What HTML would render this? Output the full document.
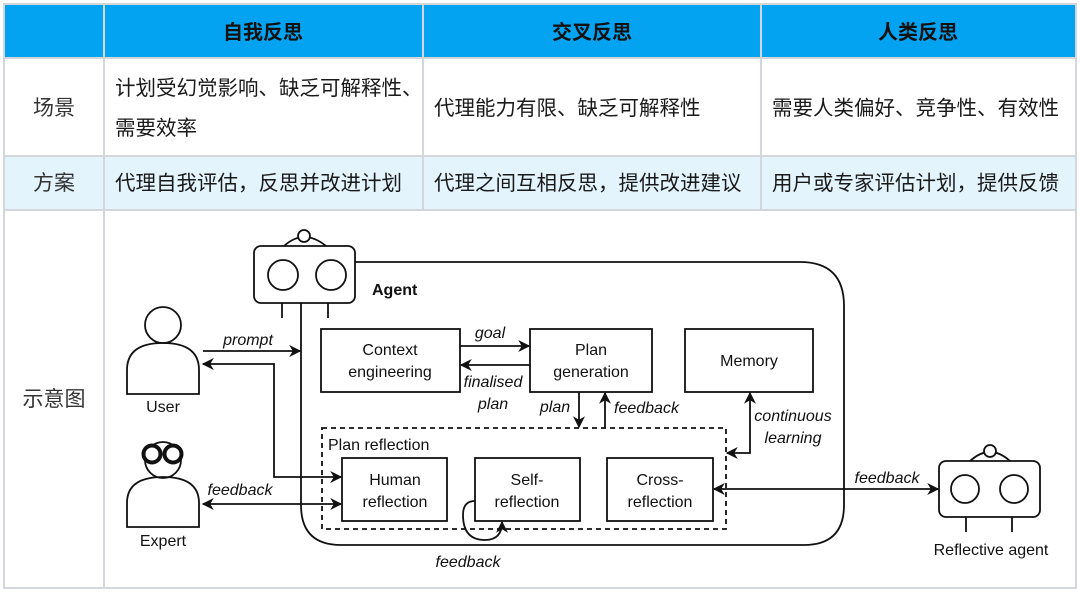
<!DOCTYPE html>
<html><head><meta charset="utf-8"><style>
body{margin:0;background:#fff;}
svg{display:block;}
.cj{font-family:"Liberation Sans","Noto Sans CJK SC",sans-serif;}
.t{font-family:"Liberation Sans",sans-serif;font-size:16px;fill:#111;}
.i{font-style:italic;}
</style></head><body>
<svg width="1080" height="595" viewBox="0 0 1080 595" xmlns="http://www.w3.org/2000/svg">
<defs>
<marker id="a" viewBox="0 0 10 10" refX="9" refY="5" markerWidth="12" markerHeight="12" orient="auto-start-reverse" markerUnits="userSpaceOnUse"><path d="M0,0 L10,5 L0,10 L3,5 z" fill="#111"/></marker>
</defs>
<rect x="4" y="4" width="1072" height="54" fill="#03a3f1"/>
<rect x="4" y="156" width="1072" height="54" fill="#e3f4fd"/>
<g stroke="#d3d6da" stroke-width="2" fill="none">
<rect x="4" y="4" width="1072" height="584"/>
<line x1="104" y1="4" x2="104" y2="588"/>
<line x1="423" y1="4" x2="423" y2="210"/>
<line x1="761" y1="4" x2="761" y2="210"/>
<line x1="4" y1="58" x2="1076" y2="58"/>
<line x1="4" y1="156" x2="1076" y2="156"/>
<line x1="4" y1="210" x2="1076" y2="210"/>
</g>
<g class="cj" font-size="20.5" fill="#1a1a1a">
<text x="263" y="39" text-anchor="middle" font-weight="bold" font-size="20" fill="#111">自我反思</text>
<text x="592" y="39" text-anchor="middle" font-weight="bold" font-size="20" fill="#111">交叉反思</text>
<text x="918" y="39" text-anchor="middle" font-weight="bold" font-size="20" fill="#111">人类反思</text>
<text x="54" y="115" text-anchor="middle" font-size="21" fill="#333">场景</text>
<text x="54" y="190" text-anchor="middle" font-size="21" fill="#333">方案</text>
<text x="54" y="406" text-anchor="middle" font-size="21" fill="#333">示意图</text>
<text x="115" y="95">计划受幻觉影响、缺乏可解释性、</text>
<text x="115" y="135">需要效率</text>
<text x="434" y="115">代理能力有限、缺乏可解释性</text>
<text x="772" y="115">需要人类偏好、竞争性、有效性</text>
<text x="115" y="190">代理自我评估，反思并改进计划</text>
<text x="434" y="190">代理之间互相反思，提供改进建议</text>
<text x="772" y="190">用户或专家评估计划，提供反馈</text>
</g>
<g stroke="#111" stroke-width="1.8" fill="none">
<path d="M355,262 H800 Q844,262 844,306 V505 Q844,545 804,545 H341 Q301,545 301,505 V303"/>
<path d="M284,246 Q304,228 326,246"/>
<circle cx="304" cy="236" r="6" fill="#fff"/>
<rect x="254" y="246" width="101" height="57" rx="7" fill="#fff"/>
<circle cx="283" cy="275" r="15"/><circle cx="331" cy="275" r="15"/>
<line x1="282" y1="303" x2="282" y2="318"/><line x1="328" y1="303" x2="328" y2="318"/>
<circle cx="163" cy="325" r="18"/>
<path d="M127,394 V370 Q127,343 163,343 Q199,343 199,370 V394 Z"/>
<circle cx="163" cy="460" r="18"/>
<path d="M127,527 V503 Q127,477 163,477 Q199,477 199,503 V527 Z"/>
<circle cx="152" cy="454" r="8.5" stroke-width="4" fill="#fff"/><circle cx="173" cy="454" r="8.5" stroke-width="4" fill="#fff"/>
<rect x="321" y="329" width="139" height="63"/>
<rect x="530" y="329" width="122" height="63"/>
<rect x="685" y="329" width="128" height="63"/>
<rect x="322" y="428" width="404" height="101" stroke-dasharray="5,4"/>
<rect x="342" y="458" width="105" height="63"/>
<rect x="475" y="458" width="105" height="63"/>
<rect x="607" y="458" width="106" height="63"/>
<path d="M970,461 Q990,443 1010,461"/>
<circle cx="990" cy="451" r="6" fill="#fff"/>
<rect x="939" y="461" width="101" height="56" rx="7" fill="#fff"/>
<circle cx="965" cy="489" r="14"/><circle cx="1014" cy="489" r="14"/>
<line x1="966" y1="517" x2="966" y2="532"/><line x1="1012" y1="517" x2="1012" y2="532"/>
<line x1="203" y1="351" x2="300" y2="351" marker-end="url(#a)"/>
<path d="M203,364 H274 V477 H341" marker-start="url(#a)" marker-end="url(#a)"/>
<line x1="203" y1="504" x2="341" y2="504" marker-start="url(#a)" marker-end="url(#a)"/>
<line x1="460" y1="346" x2="529" y2="346" marker-end="url(#a)"/>
<line x1="530" y1="365" x2="461" y2="365" marker-end="url(#a)"/>
<line x1="579" y1="392" x2="579" y2="427" marker-end="url(#a)"/>
<line x1="605" y1="428" x2="605" y2="393" marker-end="url(#a)"/>
<path d="M750,393 V453 H727" marker-start="url(#a)" marker-end="url(#a)"/>
<line x1="714" y1="489" x2="938" y2="489" marker-start="url(#a)" marker-end="url(#a)"/>
<path d="M475,501 Q463,501 463,515 Q463,540 485,540 Q502,540 502,522" marker-end="url(#a)"/>
</g>
<g class="t" text-anchor="middle">
<text x="372" y="295" text-anchor="start" font-weight="bold">Agent</text>
<text x="163" y="412">User</text>
<text x="163" y="546">Expert</text>
<text x="390" y="355">Context</text><text x="390" y="377">engineering</text>
<text x="591" y="355">Plan</text><text x="591" y="377">generation</text>
<text x="749" y="366">Memory</text>
<text x="395" y="485">Human</text><text x="395" y="507">reflection</text>
<text x="527" y="485">Self-</text><text x="527" y="507">reflection</text>
<text x="660" y="485">Cross-</text><text x="660" y="507">reflection</text>
<text x="328" y="450" text-anchor="start">Plan reflection</text>
<text x="991" y="555">Reflective agent</text>
</g>
<g class="t i" text-anchor="middle">
<text x="248" y="345">prompt</text>
<text x="240" y="495">feedback</text>
<text x="490" y="338">goal</text>
<text x="493" y="387">finalised</text><text x="493" y="409">plan</text>
<text x="555" y="412">plan</text>
<text x="614" y="413" text-anchor="start">feedback</text>
<text x="793" y="421">continuous</text><text x="793" y="443">learning</text>
<text x="887" y="483">feedback</text>
<text x="468" y="567">feedback</text>
</g>
</svg>
</body></html>
